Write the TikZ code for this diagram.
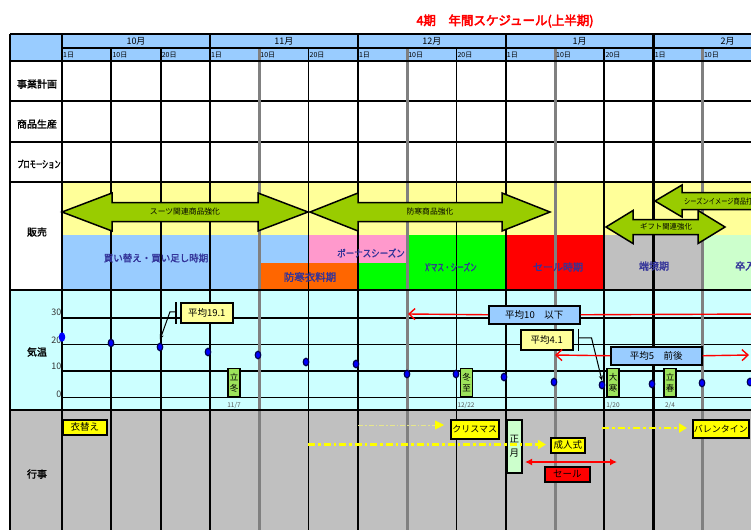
\documentclass[tikz,border=0pt]{standalone}
\usepackage{fontspec}
\setmainfont{Noto Sans CJK JP}[BoldFont={Noto Sans CJK JP},BoldFeatures={FakeBold=1.8}]
\newfontfamily\titlefont{Noto Sans CJK JP}[FakeBold=3.5]
\usepackage{tikz}
\usetikzlibrary{arrows.meta,shapes.geometric}
\definecolor{SchedGrid}{HTML}{808080}
\definecolor{SchedHeader}{HTML}{99CCFF}
\definecolor{SchedYellow}{HTML}{FFFF99}
\definecolor{SchedLemon}{HTML}{FFFF00}
\definecolor{SchedSky}{HTML}{CCFFFF}
\definecolor{SchedSilver}{HTML}{C0C0C0}
\definecolor{SchedLeaf}{HTML}{99CC00}
\definecolor{SchedPink}{HTML}{FF99CC}
\definecolor{SchedOrange}{HTML}{FF6600}
\definecolor{SchedGreen}{HTML}{00FF00}
\definecolor{SchedRed}{HTML}{FF0000}
\definecolor{SchedMint}{HTML}{CCFFCC}
\definecolor{SchedInk}{HTML}{333399}
\definecolor{SchedTag}{HTML}{9DE35B}
\definecolor{SchedDot}{HTML}{000050}
\definecolor{SchedBlue}{HTML}{0000FF}
\definecolor{SchedDate}{HTML}{555555}
\definecolor{SchedFaint}{HTML}{E6E68A}

\begin{document}
\begin{tikzpicture}[x=1pt,y=-1pt,
    gridline/.style={line width=1.8pt},
    monthline/.style={line width=2.3pt},
    grayline/.style={SchedGrid,line width=3pt},
    rowlabel/.style={font=\bfseries\fontsize{10}{10}\selectfont,inner sep=0},
    monthtext/.style={font=\fontsize{9}{9}\selectfont,inner sep=0},
    daytext/.style={font=\fontsize{7}{7}\selectfont,inner sep=0,anchor=west},
    bandtext/.style={text=SchedInk,font=\bfseries\fontsize{10}{10}\selectfont,inner sep=0},
    arrowtext/.style={font=\fontsize{7.8}{8}\selectfont,inner sep=0},
    bigarrow/.style={fill=SchedLeaf,draw=black,line width=1.5pt,line join=miter},
    axistext/.style={text=black!80,font=\fontsize{9}{9}\selectfont,inner sep=0,anchor=east},
    tempdot/.style={ellipse,draw=SchedDot,fill=SchedBlue,line width=1.2pt,minimum width=5.5pt,minimum height=7.5pt,inner sep=0},
    avgbox/.style={draw,line width=1.5pt,font=\fontsize{9.5}{9.5}\selectfont,inner sep=0,anchor=north west},
    tagbox/.style={draw,line width=1.2pt,fill=SchedTag,font=\fontsize{8.5}{11}\selectfont,align=center,inner sep=0,minimum width=12pt,minimum height=28pt,anchor=north},
    datetext/.style={text=SchedDate,font=\fontsize{6.5}{7}\selectfont,inner sep=0},
    eventbox/.style={draw,line width=1.6pt,fill=SchedLemon,font=\fontsize{9.5}{10}\selectfont,inner sep=0,anchor=north west},
    calloutline/.style={line width=1pt,-{Stealth[length=5pt,width=4pt]}},
    redline/.style={SchedRed,line width=1.4pt},
    dashyellow/.style={SchedLemon,line width=2.5pt,dash pattern=on 7pt off 3pt on 2.5pt off 3pt},
  ]
  \useasboundingbox (0,0) rectangle (751,530);
  \clip (0,0) rectangle (751,530);
  \fill[white] (0,0) rectangle (751,530);

  % row backgrounds
  \fill[SchedHeader] (10,34) rectangle (760,61);
  \fill[SchedYellow] (62,182) rectangle (760,235);
  \fill[SchedHeader] (62,235) rectangle (308,290);
  \fill[SchedPink] (308,235) rectangle (407,263);
  \fill[SchedOrange] (259,263) rectangle (358,290);
  \fill[SchedGreen] (358,263) rectangle (407,290);
  \fill[SchedGreen] (407,235) rectangle (506,290);
  \fill[SchedRed] (506,235) rectangle (604,290);
  \fill[SchedSilver] (604,235) rectangle (703,290);
  \fill[SchedMint] (703,235) rectangle (760,290);
  \fill[SchedSky] (10,290) rectangle (760,410);
  \fill[SchedSilver] (10,410) rectangle (760,530);

  % grid
  \foreach \y in {101,142} \draw[gridline] (10,\y) -- (760,\y);
  \foreach \y in {318,344.5,371,397.5} \draw[gridline] (62,\y) -- (760,\y);
  \draw[line width=2.4pt] (10,34) -- (10,530);
  \draw[gridline] (62,34) -- (62,530);
  \foreach \i in {1,2,5,8,11} \draw[gridline] ({62+49.3*\i},48) -- ++(0,482);
  \foreach \i in {4,7,10,13} \draw[grayline] ({62+49.3*\i},48) -- ++(0,482);
  \foreach \i in {3,6,9,12} \draw[monthline] ({62+49.3*\i},34) -- ++(0,496);
  \draw[line width=2.4pt] (10,34) -- (760,34);
  \draw[monthline] (62,48) -- (760,48);
  \draw[line width=2.4pt] (10,61) -- (760,61);
  \foreach \y in {182,290,410} \draw[line width=2.8pt] (10,\y) -- (760,\y);

  % header
  \node[text=SchedRed,font=\titlefont\fontsize{12.5}{12.5}\selectfont] (title) at (505,21) {4期　年間スケジュール(上半期)};
  \foreach \m [count=\i from 0] in {10月,11月,12月,1月,2月}
    \node[monthtext] (month\i) at ({136+147.9*\i},41) {\m};
  \foreach \dl [count=\i from 0] in {1日,10日,20日,1日,10日,20日,1日,10日,20日,1日,10日,20日,1日,10日}
    \node[daytext] (day\i) at ({63+49.3*\i},55.5) {\dl};

  \node[rowlabel] (plan) at (37,84) {事業計画};
  \node[rowlabel] (make) at (37,124) {商品生産};
  \node[rowlabel,xscale=0.62] (promo) at (39,164) {プロモーション};
  \node[rowlabel] (sales) at (37,232) {販売};
  \node[rowlabel] (temp) at (37,352) {気温};
  \node[rowlabel] (events) at (37,474) {行事};

  % sales periods
  \node[bandtext,font=\bfseries\fontsize{9.5}{10}\selectfont] (rebuy) at (156,258) {買い替え・買い足し時期};
  \node[bandtext,xscale=0.85] (bonus) at (371,253) {ボーナスシーズン};
  \node[bandtext,font=\bfseries\fontsize{10.5}{11}\selectfont] (coldwear) at (310,277) {防寒衣料期};
  \node[bandtext,xscale=0.66] (xmasseason) at (451,267) {X'マス・シーズン};
  \node[bandtext] (saleseason) at (558,267) {セール時期};
  \node[bandtext] (offseason) at (654,266) {端境期};
  \node[bandtext,anchor=west] (school) at (735,266) {卒入学期};

  \draw[bigarrow] (62,212) -- (112,193) -- (112,202.5) -- (258,202.5) -- (258,193) -- (308,212)
    -- (258,231) -- (258,221.5) -- (112,221.5) -- (112,231) -- cycle;
  \draw[bigarrow] (310,212) -- (358,193) -- (358,202.5) -- (502,202.5) -- (502,193) -- (550,212)
    -- (502,231) -- (502,221.5) -- (358,221.5) -- (358,231) -- cycle;
  \draw[bigarrow] (655,201) -- (682,185) -- (682,192.5) -- (765,192.5) -- (765,209.5) -- (682,209.5)
    -- (682,217) -- cycle;
  \draw[bigarrow] (606,227) -- (633,210.5) -- (633,219.5) -- (698,219.5) -- (698,210.5) -- (725,227)
    -- (698,243.5) -- (698,234.5) -- (633,234.5) -- (633,243.5) -- cycle;
  \node[arrowtext] (suits) at (185,212) {スーツ関連商品強化};
  \node[arrowtext] (coldgoods) at (430,212) {防寒商品強化};
  \node[arrowtext,anchor=west,xscale=0.8] (imagegoods) at (684,201) {シーズンイメージ商品打ち出し};
  \node[arrowtext,font=\fontsize{7.4}{8}\selectfont] (gift) at (666,227) {ギフト関連強化};

  % temperature
  \foreach \v/\y in {30/312,20/340,10/366,0/394}
    \node[axistext] (axis\v) at (61.5,\y) {\v};
  \node[ellipse,fill=SchedBlue,minimum width=6.5pt,minimum height=9.5pt,inner sep=0] (t0) at (62,337) {};
  \foreach \x/\y [count=\i] in {111/343,160/347,208/352,258/355,306/362,356/364,407/374,456/374,
      504/377,554/382,602/385,652/384,702/383,750/382}
    \node[tempdot] (t\i) at (\x,\y) {};

  \node[avgbox,fill=SchedYellow,minimum width=52pt,minimum height=20pt] (avg19) at (180,302) {平均19.1};
  \draw[line width=1.2pt] ([xshift=-4pt]avg19.north west) -- ([xshift=-4pt]avg19.south west);
  \draw[calloutline] ([xshift=-4pt,yshift=1pt]avg19.west) -- ++(-6,0) -- ([yshift=3pt]t2.north);

  \coordinate (low10l) at (408,314);
  \coordinate (low10r) at (765,314);
  \node[avgbox,fill=SchedHeader,minimum width=91pt,minimum height=18pt] (avg10) at (488,305) {平均10　以下};
  \draw[redline,-{Straight Barb[length=6pt,width=11pt]}] (avg10.west) -- (low10l);
  \draw[redline] (avg10.east) -- (low10r);

  \node[avgbox,fill=SchedYellow,minimum width=52pt,minimum height=20pt] (avg41) at (520,329) {平均4.1};
  \draw[line width=1.2pt] ([xshift=5pt]avg41.north east) -- ([xshift=5pt]avg41.south east);
  \draw[calloutline] ([xshift=5pt,yshift=2pt]avg41.east) -- ++(13,0) -- (t11.north);

  \coordinate (about5l) at (555,355);
  \coordinate (about5r) at (749,355);
  \node[avgbox,fill=SchedHeader,minimum width=91pt,minimum height=18pt] (avg5) at (610,346) {平均5　前後};
  \draw[redline,-{Straight Barb[length=6pt,width=11pt]}] (avg5.west) -- (about5l);
  \draw[redline,-{Straight Barb[length=6pt,width=11pt]}] (avg5.east) -- (about5r);

  \node[tagbox] (ritto) at (234,368) {立\\冬};
  \node[tagbox] (toji) at (466.5,368) {冬\\至};
  \node[tagbox] (daikan) at (613,368) {大\\寒};
  \node[tagbox] (risshun) at (670,368) {立\\春};
  \node[datetext] (rittodate) at (234,405) {11/7};
  \node[datetext] (tojidate) at (466,405) {12/22};
  \node[datetext] (daikandate) at (613,405) {1/20};
  \node[datetext] (risshundate) at (670,405) {2/4};

  % events
  \node[eventbox,minimum width=44pt,minimum height=15pt] (koromo) at (62,419) {衣替え};
  \node[eventbox,minimum width=48pt,minimum height=19pt,font=\fontsize{9}{10}\selectfont] (xmas) at (450,419) {クリスマス};
  \node[eventbox,minimum width=15pt,minimum height=53pt,fill=SchedMint,align=center,
    font=\fontsize{9.5}{14}\selectfont] (shogatsu) at (506,419) {正\\月};
  \node[eventbox,minimum width=34pt,minimum height=15pt] (seijin) at (550,437) {成人式};
  \node[eventbox,minimum width=45pt,minimum height=15pt,fill=SchedRed] (sale) at (544,466) {セール};
  \node[eventbox,minimum width=56pt,minimum height=18pt,font=\fontsize{9}{10}\selectfont] (valentine) at (692,419) {バレンタイン};

  \coordinate (xmasfrom) at (358,425);
  \coordinate (seijinfrom) at (308,444.5);
  \coordinate (valfrom) at (602,428);
  \coordinate (salel) at (525,462);
  \coordinate (saler) at (617,462);
  \draw[SchedFaint,line width=0.8pt,dash pattern=on 5pt off 2pt on 1.5pt off 2pt,
    -{Triangle[length=9pt,width=9pt,color=SchedLemon]},shorten >=6pt] (xmasfrom) -- (xmasfrom -| xmas.west);
  \draw[dashyellow,-{Triangle[length=8pt,width=9pt]},shorten >=4pt] (seijinfrom) -- (seijinfrom -| seijin.west);
  \draw[dashyellow,-{Triangle[length=8pt,width=9pt]},shorten >=5pt] (valfrom) -- (valfrom -| valentine.west);
  \draw[redline,{Latex[length=7pt,width=7pt]}-{Latex[length=7pt,width=7pt]}] (salel) -- (saler);
\end{tikzpicture}
\end{document}
